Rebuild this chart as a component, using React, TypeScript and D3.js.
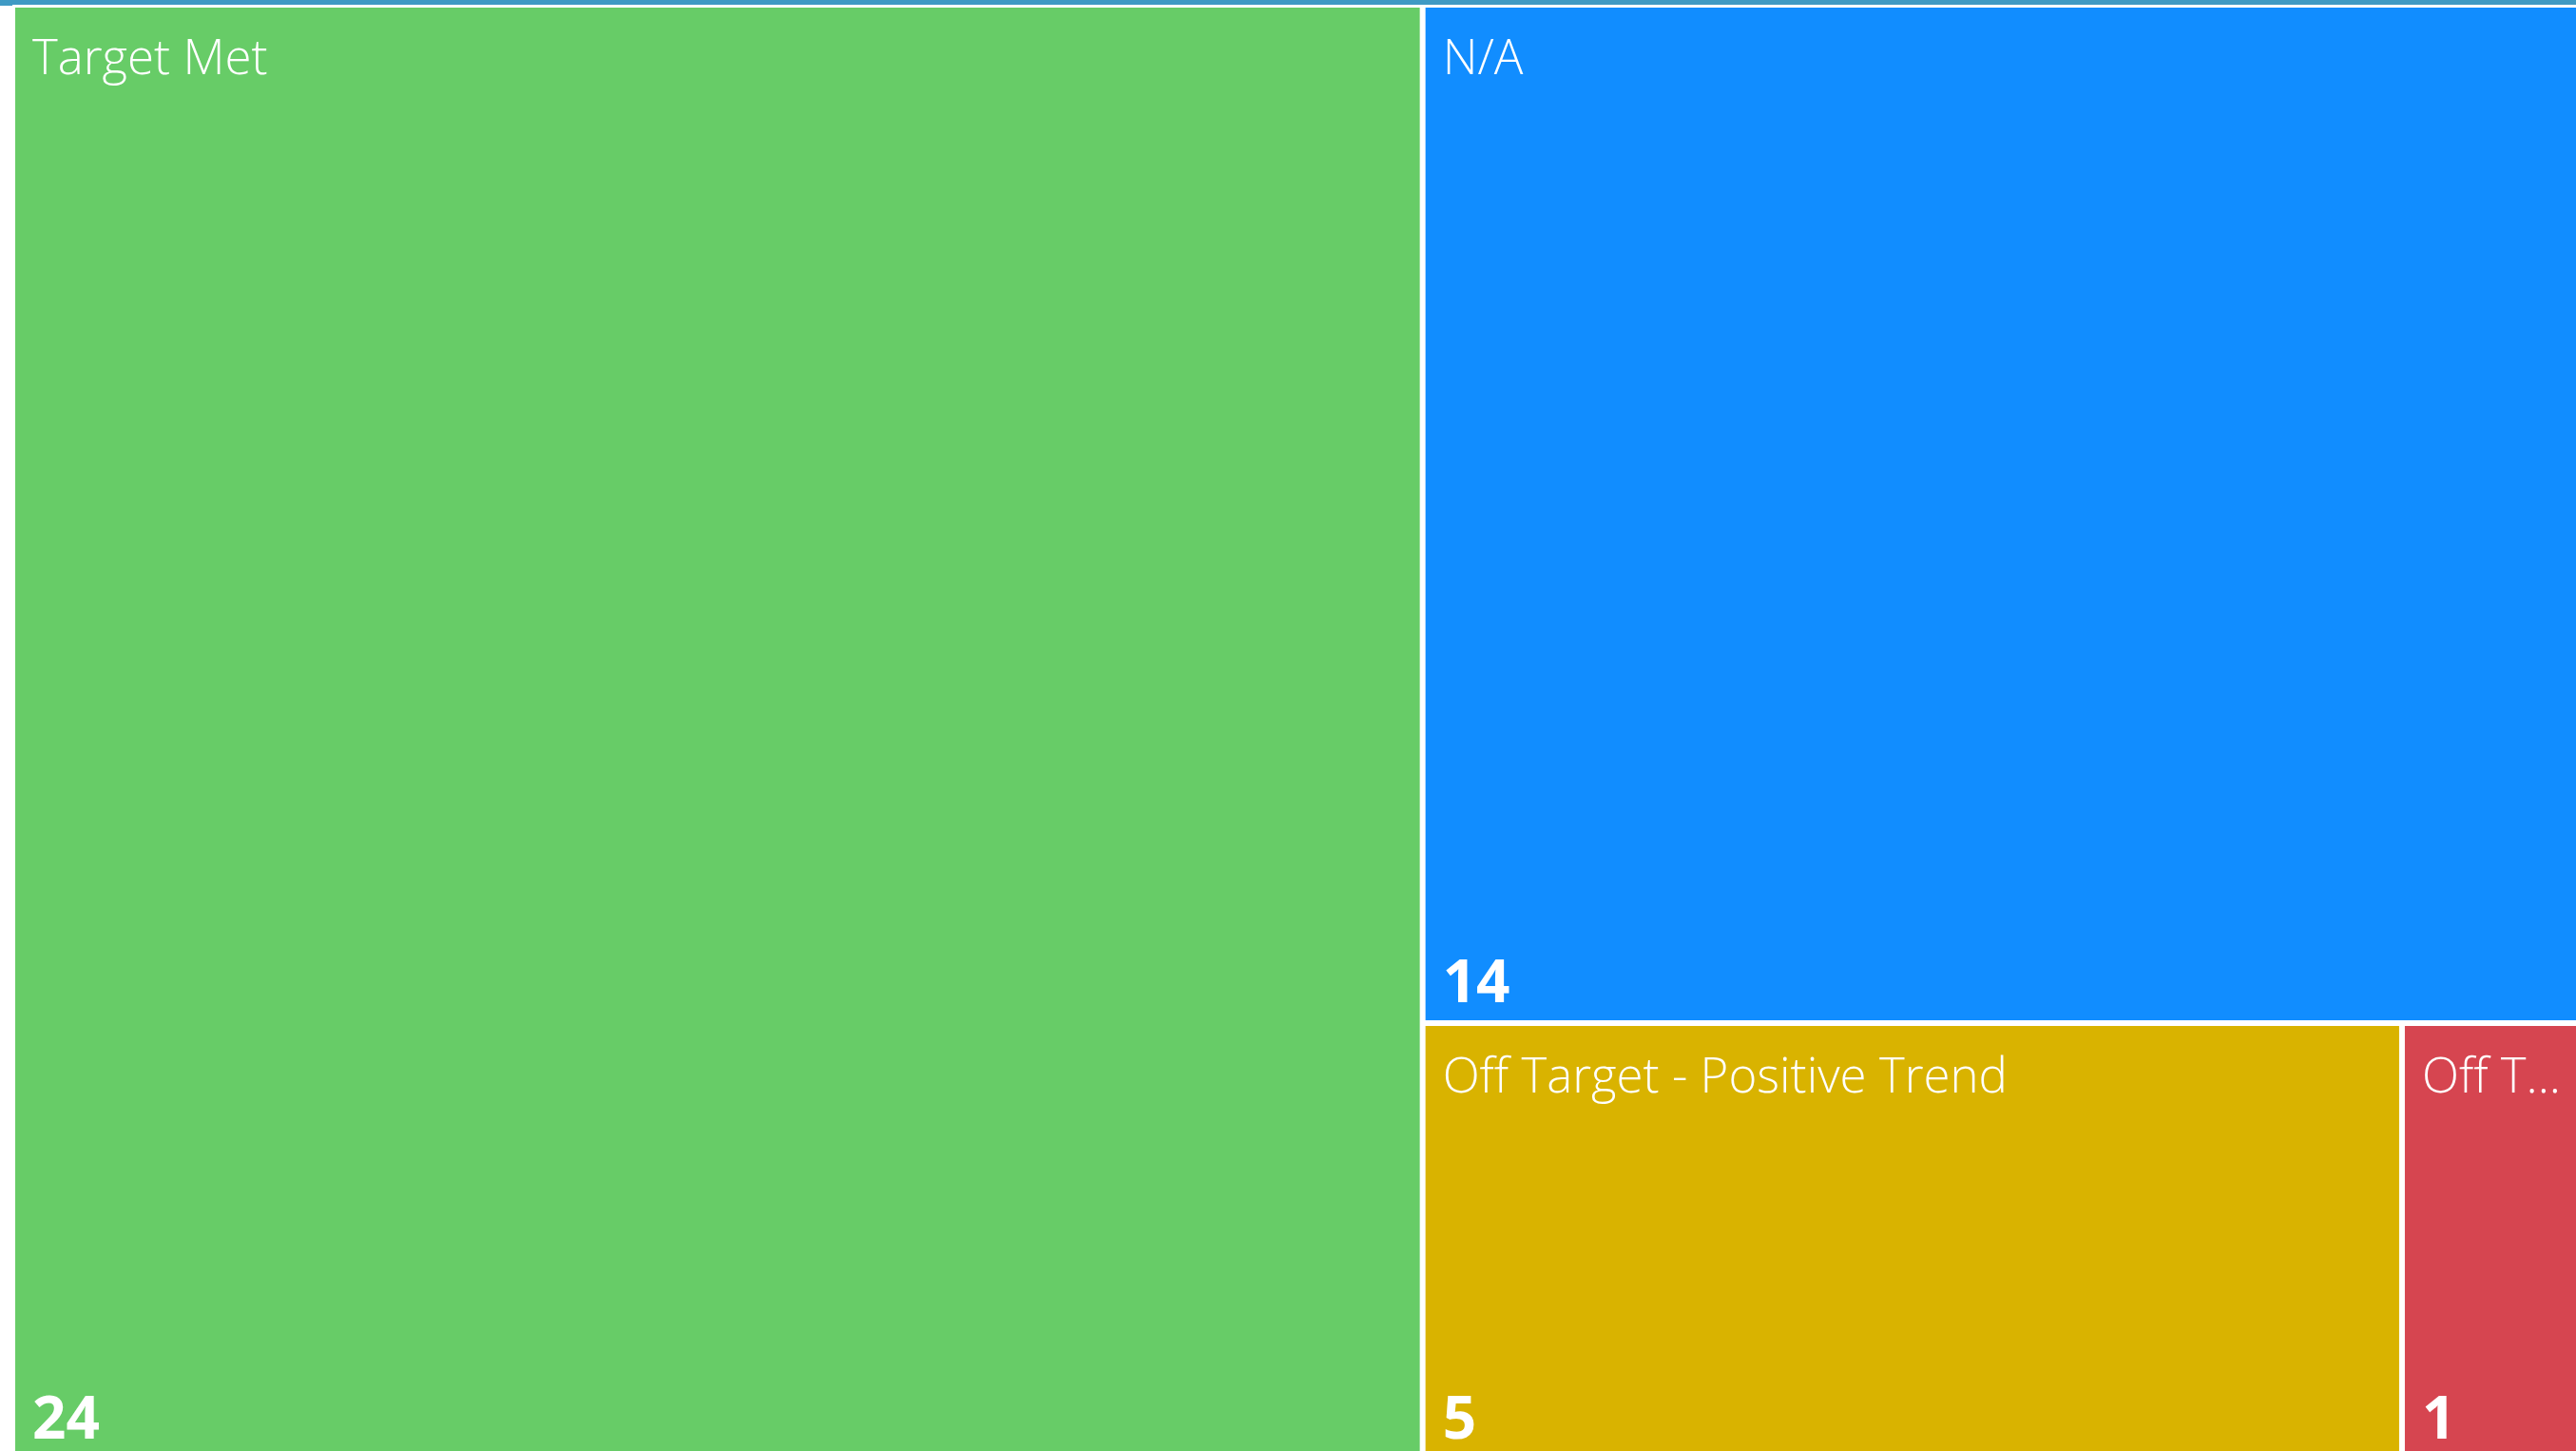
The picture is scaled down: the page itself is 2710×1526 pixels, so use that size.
import { useRef, useEffect } from "react";
import * as d3 from "d3";

const categories = ["Target Met", "N/A", "Off Target - Positive Trend", "Off Target - Negative Trend"];
const counts = [24, 14, 5, 1];
const colors = ["#67cc67", "#118dff", "#d9b300", "#d64550"];

const WIDTH = 2710;
const HEIGHT = 1526;

interface Leaf {
  name: string;
  value: number;
  color: string;
}

export default function App() {
  const svgRef = useRef<SVGSVGElement>(null);

  useEffect(() => {
    if (!svgRef.current) return;
    document.body.style.margin = "0";
    document.body.style.overflow = "hidden";

    const svg = d3.select(svgRef.current);
    svg.selectAll("*").remove();

    // plot area runs a bit past the right and bottom edges, like the original
    const left = 16;
    const top = 8;
    const plotW = 2714;
    const plotH = 1524;

    const leaves: Leaf[] = categories.map((name, i) => ({ name, value: counts[i], color: colors[i] }));

    const root = d3
      .hierarchy<{ children?: Leaf[] } | Leaf>({ children: leaves }, (d: any) => d.children)
      .sum((d: any) => d.value ?? 0)
      .sort((a, b) => (b.value ?? 0) - (a.value ?? 0));

    d3.treemap<any>().size([plotW, plotH]).paddingInner(6).tile(d3.treemapSquarify)(root);

    // top accent line
    svg.append("rect").attr("x", 0).attr("y", 0).attr("width", 13).attr("height", 6).attr("fill", "#3f9ac4");
    svg.append("rect").attr("x", 13).attr("y", 0).attr("width", WIDTH - 13).attr("height", 5).attr("fill", "#3f9ac4");

    const g = svg.append("g").attr("transform", `translate(${left},${top})`);

    const cells = g
      .selectAll("g.cell")
      .data(root.leaves() as d3.HierarchyRectangularNode<any>[])
      .join("g")
      .attr("class", "cell")
      .attr("transform", (d) => `translate(${d.x0},${d.y0})`);

    cells
      .append("rect")
      .attr("width", (d) => d.x1 - d.x0)
      .attr("height", (d) => d.y1 - d.y0)
      .attr("fill", (d) => d.data.color);

    // category label, truncated to fit the cell
    cells
      .append("text")
      .attr("x", 18)
      .attr("y", 70)
      .attr("fill", "#ffffff")
      .attr("font-family", "'Segoe UI Light', 'Segoe UI', 'Open Sans', sans-serif")
      .attr("font-weight", 300)
      .attr("font-size", "51px")
      .each(function (d) {
        const el = d3.select(this);
        const maxW = d.x1 - d.x0 - 46;
        const full = d.data.name as string;
        el.text(full);
        let n = full.length;
        while (n > 0 && (this as SVGTextElement).getComputedTextLength() > maxW) {
          n -= 1;
          el.text(full.slice(0, n).trimEnd() + "...");
        }
      });

    // count label at the bottom
    cells
      .append("text")
      .attr("x", 18)
      .attr("y", (d) => d.y1 - d.y0 - 19)
      .attr("fill", "#ffffff")
      .attr("font-family", "'Segoe UI', 'Open Sans', sans-serif")
      .attr("font-weight", "bold")
      .attr("font-size", "62px")
      .text((d) => String(d.value));
  }, []);

  return (
    <svg
      ref={svgRef}
      width={WIDTH}
      height={HEIGHT}
      style={{ position: "absolute", left: 0, top: 0, display: "block", background: "#ffffff" }}
    />
  );
}
